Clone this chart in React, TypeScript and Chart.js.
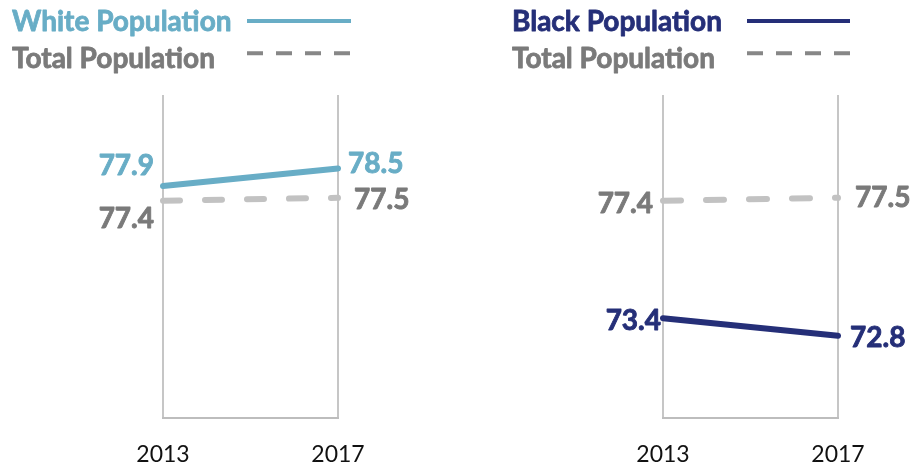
import React, { useEffect, useRef } from 'react';
import { Chart, registerables } from 'chart.js';

Chart.register(...registerables);

// ---- data ----
const years = ['2013', '2017'];
const whiteValues = [77.9, 78.5];
const blackValues = [73.4, 72.8];
const totalValues = [77.4, 77.5];
const whiteName = 'White Population';
const blackName = 'Black Population';
const totalName = 'Total Population';
const yMin = 70;
const yMax = 81;

// ---- styles ----
const WHITE = '#68adc6';
const NAVY = '#252f78';
const TOTAL_LINE = '#c2c2c2';
const GRAY_TEXT = '#7a7a7a';
const LEGEND_DASH = '#878787';
const FONT = 'Lato, "Open Sans", sans-serif';

const valueLabelPlugin = {
  id: 'valueLabels',
  afterDatasetsDraw(chart: any, _args: any, opts: any) {
    const ctx = chart.ctx;
    const size = opts.size;
    ctx.save();
    ctx.font = `bold ${size}px ${FONT}`;
    ctx.textBaseline = 'alphabetic';
    ctx.lineWidth = 0.9;
    ctx.lineJoin = 'round';
    chart.data.datasets.forEach((ds: any, di: number) => {
      const meta = chart.getDatasetMeta(di);
      const offs = opts.offsets[di];
      meta.data.forEach((pt: any, i: number) => {
        const o = offs[i];
        ctx.fillStyle = opts.colors[di];
        ctx.strokeStyle = opts.colors[di];
        ctx.textAlign = o.align;
        const v = ds.data[i];
        const tx = pt.x + o.dx;
        const ty = pt.y + o.dy + size * 0.358;
        ctx.fillText(Number(v).toFixed(1), tx, ty);
        ctx.strokeText(Number(v).toFixed(1), tx, ty);
      });
    });
    ctx.restore();
  },
};

const sideLegendPlugin = {
  id: 'sideLegend',
  afterDraw(chart: any, _args: any, opts: any) {
    const ctx = chart.ctx;
    ctx.save();
    ctx.font = `bold ${opts.size}px ${FONT}`;
    ctx.textAlign = 'left';
    ctx.textBaseline = 'alphabetic';
    opts.rows.forEach((r: any) => {
      const label = chart.data.datasets[r.datasetIndex].label;
      ctx.fillStyle = r.textColor;
      ctx.strokeStyle = r.textColor;
      ctx.lineWidth = 0.8;
      ctx.lineJoin = 'round';
      ctx.setLineDash([]);
      ctx.fillText(label, opts.textX, r.baseline);
      ctx.strokeText(label, opts.textX, r.baseline);
      ctx.beginPath();
      ctx.strokeStyle = r.lineColor;
      ctx.lineWidth = 4;
      ctx.lineCap = 'butt';
      ctx.setLineDash(r.dash || []);
      ctx.moveTo(opts.lineX1, r.lineY);
      ctx.lineTo(opts.lineX2, r.lineY);
      ctx.stroke();
    });
    ctx.restore();
  },
};

type PanelProps = {
  left: number;
  mainName: string;
  mainValues: number[];
  mainColor: string;
  padLeft: number;
  padRight: number;
  textX: number;
  lineX1: number;
  lineX2: number;
  offsets: any[];
  totalDash: number[];
};

function Panel(p: PanelProps) {
  const ref = useRef<HTMLCanvasElement | null>(null);
  useEffect(() => {
    if (!ref.current) return;
    const chart = new Chart(ref.current, {
      type: 'line',
      data: {
        labels: years,
        datasets: [
          {
            label: p.mainName,
            data: p.mainValues,
            borderColor: p.mainColor,
            backgroundColor: p.mainColor,
            borderWidth: 6,
            pointRadius: 0,
            borderCapStyle: 'round',
            tension: 0,
          },
          {
            label: totalName,
            data: totalValues,
            borderColor: TOTAL_LINE,
            backgroundColor: TOTAL_LINE,
            borderWidth: 6,
            borderDash: p.totalDash,
            borderCapStyle: 'round',
            pointRadius: 0,
            tension: 0,
          },
        ],
      },
      options: {
        responsive: false,
        animation: false,
        events: [],
        layout: { padding: { left: p.padLeft, right: p.padRight, top: 95, bottom: 0 } },
        plugins: {
          legend: { display: false },
          tooltip: { enabled: false },
          valueLabels: {
            size: 28,
            colors: [p.mainColor, GRAY_TEXT],
            offsets: p.offsets,
          },
          sideLegend: {
            size: 28,
            textX: p.textX,
            lineX1: p.lineX1,
            lineX2: p.lineX2,
            rows: [
              { datasetIndex: 0, baseline: 30.7, lineY: 21, textColor: p.mainColor, lineColor: p.mainColor },
              { datasetIndex: 1, baseline: 67.5, lineY: 53.3, textColor: GRAY_TEXT, lineColor: LEGEND_DASH, dash: [16, 13] },
            ],
          },
        } as any,
        scales: {
          x: {
            offset: false,
            grid: { display: true, color: '#c6c6c6', lineWidth: 2, drawTicks: false },
            border: { display: true, color: '#bdbdbd', width: 2 },
            ticks: { color: '#111111', font: { family: FONT, size: 23 }, padding: 23, maxRotation: 0, autoSkip: false },
            afterFit: (s: any) => {
              s.height = 49;
            },
          },
          y: { display: false, min: yMin, max: yMax },
        },
      },
      plugins: [valueLabelPlugin, sideLegendPlugin],
    } as any);
    return () => chart.destroy();
  }, []);
  return (
    <canvas
      ref={ref}
      width={457}
      height={467}
      style={{ position: 'absolute', left: p.left, top: 0, width: 457, height: 467, display: 'block' }}
    />
  );
}

export default function App() {
  return (
    <div style={{ position: 'absolute', left: 0, top: 0, width: 914, height: 467, background: '#ffffff', overflow: 'hidden' }}>
      <Panel
        left={0}
        mainName={whiteName}
        mainValues={whiteValues}
        mainColor={WHITE}
        padLeft={163}
        padRight={119}
        textX={12}
        lineX1={247}
        lineX2={351}
        totalDash={[17, 25]}
        offsets={[
          [
            { dx: -9, dy: -21.5, align: 'right' },
            { dx: 10, dy: -5, align: 'left' },
          ],
          [
            { dx: -9, dy: 17, align: 'right' },
            { dx: 16, dy: 1, align: 'left' },
          ],
        ]}
      />
      <Panel
        left={457}
        mainName={blackName}
        mainValues={blackValues}
        mainColor={NAVY}
        padLeft={206}
        padRight={76}
        textX={55}
        lineX1={290}
        lineX2={393}
        totalDash={[18, 25]}
        offsets={[
          [
            { dx: -2, dy: 2, align: 'right' },
            { dx: 12, dy: 1, align: 'left' },
          ],
          [
            { dx: -10, dy: 2, align: 'right' },
            { dx: 17, dy: -1, align: 'left' },
          ],
        ]}
      />
    </div>
  );
}
